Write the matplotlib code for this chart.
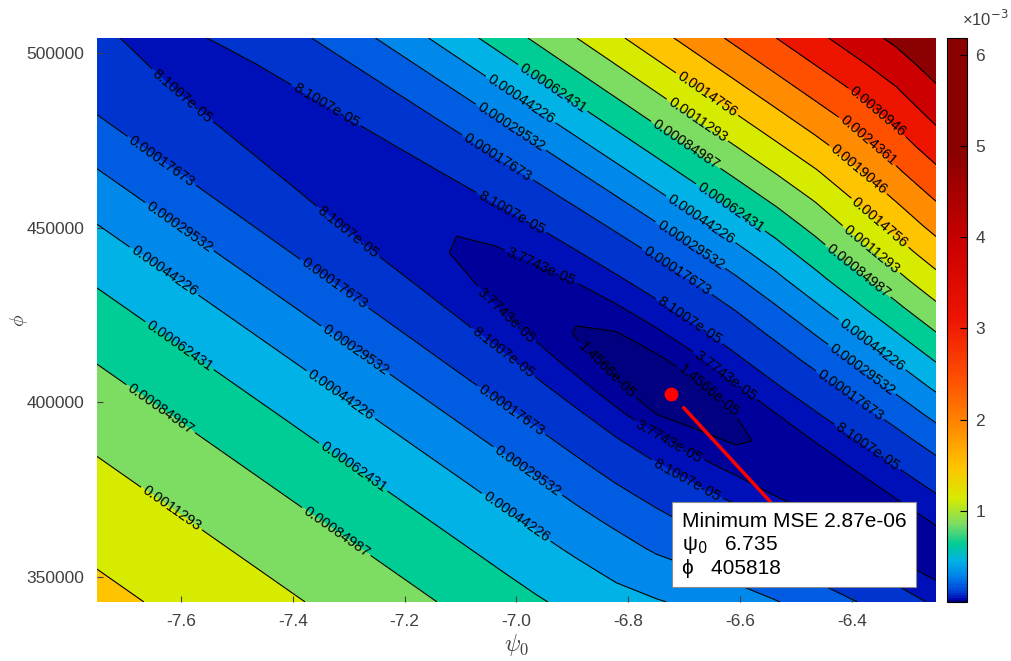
import numpy as np
import matplotlib.pyplot as plt
from matplotlib.colors import LinearSegmentedColormap, Normalize
from matplotlib.cm import ScalarMappable

# contour levels as printed on the lines
LEVELS = [1.4566e-05, 3.7743e-05, 8.1007e-05, 0.00017673, 0.00029532,
          0.00044226, 0.00062431, 0.00084987, 0.0011293, 0.0014756,
          0.0019046, 0.0024361, 0.0030946, 0.0039106, 0.0049216]
# fill colour of each band, lowest band first
BAND_COLORS = ['#000080', '#00009a', '#0010b8', '#0034cf', '#005ce0',
               '#0088ea', '#00b2e6', '#00cc96', '#7ddd62', '#d6eb00',
               '#ffc400', '#ff8c00', '#ff5000', '#ee1500', '#cc0000',
               '#8b0000']
X_TICKS = [-7.6, -7.4, -7.2, -7.0, -6.8, -6.6, -6.4]
Y_TICKS = [350000, 400000, 450000, 500000]
CBAR_TICKS = [1e-3, 2e-3, 3e-3, 4e-3, 5e-3, 6e-3]
CBAR_LABELS = ['1', '2', '3', '4', '5', '6']

PSI_RANGE = (-7.75, -6.25)
PHI_RANGE = (342900, 504300)
MIN_PSI = -6.723
MIN_PHI = 402300
MIN_MSE = 2.87e-06
BOX_LINES = ['Minimum MSE 2.87e-06', 'ψ$_0$   6.735', 'ϕ   405818']

# where the contour labels sit, in figure pixels from the top-left corner
LABEL_SPOTS = [(170, 111), (329, 100), (158, 166), (177, 230), (162, 274),
               (344, 237), (330, 290), (541, 267), (500, 322),
               (548, 95), (517, 105), (507, 133), (496, 160), (510, 215),
               (703, 100), (692, 128), (681, 152), (874, 116), (864, 145),
               (854, 174), (878, 225), (869, 252), (857, 272),
               (726, 214), (697, 225), (687, 250), (676, 273), (690, 320),
               (727, 373), (713, 386), (605, 372), (668, 443), (685, 483),
               (868, 350), (857, 376), (848, 398), (868, 446),
               (173, 355), (152, 421), (162, 522), (347, 362), (330, 410),
               (342, 483), (327, 545), (497, 360), (502, 423), (520, 482),
               (512, 523)]

GRAY = '#404040'
FIG_W, FIG_H = 1011, 661


def mse_surface(psi, phi):
    """
    error surface around the minimum, a long tilted valley
    (steep on the upper right, flatter on the lower left)
    """
    # screen-like units so the valley axes are orthogonal
    x = (psi - MIN_PSI) / 0.2 * 112
    y = (MIN_PHI - phi) / 50000 * 175
    w = 0.573 * x - 0.819 * y      # across the valley
    v = 0.819 * x + 0.573 * y      # along the valley
    vp = np.maximum(v, 0)
    w = w - 0.06 * vp
    wu = w * (1 + 0.0006 * vp)
    wl = w * (1 + 0.0016 * np.maximum(v - 80, 0))
    upper = 1.46e-8 * wu ** 2 + 8.2e-14 * wu ** 4
    lower = 3.85e-6 * (np.sqrt(wl ** 2 + 101 ** 2) - 101)
    across = np.where(w > 0, upper, lower)
    along = np.where(v < 0, 2.62e-5 * np.log1p((v / 170) ** 2),
                     4.2e-6 * np.log1p((v / 30) ** 2))
    fade = np.where(w > 0, 1.0, np.exp(-(wl / 80) ** 2))
    return MIN_MSE + across + along * fade


def main():
    plt.rcParams['font.family'] = ['Liberation Sans', 'DejaVu Sans']
    plt.rcParams['axes.unicode_minus'] = False

    psi = np.linspace(PSI_RANGE[0], PSI_RANGE[1], 22)
    phi = np.linspace(PHI_RANGE[0], PHI_RANGE[1], 22)
    P, F = np.meshgrid(psi, phi)
    Z = mse_surface(P, F)
    zmin, zmax = Z.min(), Z.max()

    fig = plt.figure(figsize=(FIG_W / 100, FIG_H / 100), dpi=100)
    ax = fig.add_axes([0.0959, 0.0893, 0.8299, 0.8532])
    cax = fig.add_axes([0.9367, 0.0893, 0.0198, 0.8532])
    ax.set_xlim(*PSI_RANGE)
    ax.set_ylim(*PHI_RANGE)

    bounds = [zmin] + LEVELS + [zmax]
    ax.contourf(P, F, Z, levels=bounds, colors=BAND_COLORS)
    cs = ax.contour(P, F, Z, levels=LEVELS, colors='black', linewidths=0.8)
    to_data = ax.transData.inverted()
    spots = [to_data.transform((px, FIG_H - py)) for px, py in LABEL_SPOTS]
    ax.clabel(cs, fmt=lambda val: f'{val:.5g}', fontsize=10.5, inline=True,
              inline_spacing=3, manual=spots)

    ax.plot(MIN_PSI, MIN_PHI, 'o', color='red', markersize=9)
    ax.annotate('\n'.join(BOX_LINES), xy=(MIN_PSI, MIN_PHI),
                xytext=(0.697, 0.160), textcoords='axes fraction',
                ha='left', va='top', fontsize=15, linespacing=1.2,
                bbox=dict(boxstyle='square,pad=0.45', fc='white',
                          ec='#8c8c8c', lw=0.8),
                arrowprops=dict(arrowstyle='-', color='red', lw=2.5,
                                shrinkA=0, shrinkB=13, relpos=(0.435, 1.0)))

    ax.set_xticks(X_TICKS, [f'{t:.1f}' for t in X_TICKS])
    ax.set_yticks(Y_TICKS, [str(t) for t in Y_TICKS])
    ax.tick_params(direction='in', length=4, labelsize=12.5,
                   labelcolor=GRAY, color=GRAY, pad=9)
    for s in ax.spines.values():
        s.set_visible(False)
    ax.set_xlabel(r'$\psi_0$', fontsize=17, color=GRAY,
                  math_fontfamily='cm', labelpad=2)
    ax.set_ylabel(r'$\phi$', fontsize=14, color=GRAY,
                  math_fontfamily='cm')
    ax.yaxis.set_label_coords(-0.08, 0.5)

    # continuous colour bar passing through the band colours
    nodes = [(b - zmin) / (zmax - zmin) for b in bounds[:-1]] + [1.0]
    cmap = LinearSegmentedColormap.from_list(
        'mse', list(zip(nodes, BAND_COLORS + [BAND_COLORS[-1]])))
    cb = fig.colorbar(ScalarMappable(Normalize(zmin, zmax), cmap), cax=cax)
    cb.set_ticks(CBAR_TICKS, labels=CBAR_LABELS)
    cb.ax.tick_params(direction='in', length=5, labelsize=12.5,
                      labelcolor=GRAY, color='black', pad=6)
    cb.outline.set_linewidth(0.8)
    fig.text(0.975, 0.972, '×10$^{-3}$', fontsize=12, color=GRAY,
             ha='center', va='center')

    fig.savefig('out.png', dpi=100)


if __name__ == "__main__":
    main()
